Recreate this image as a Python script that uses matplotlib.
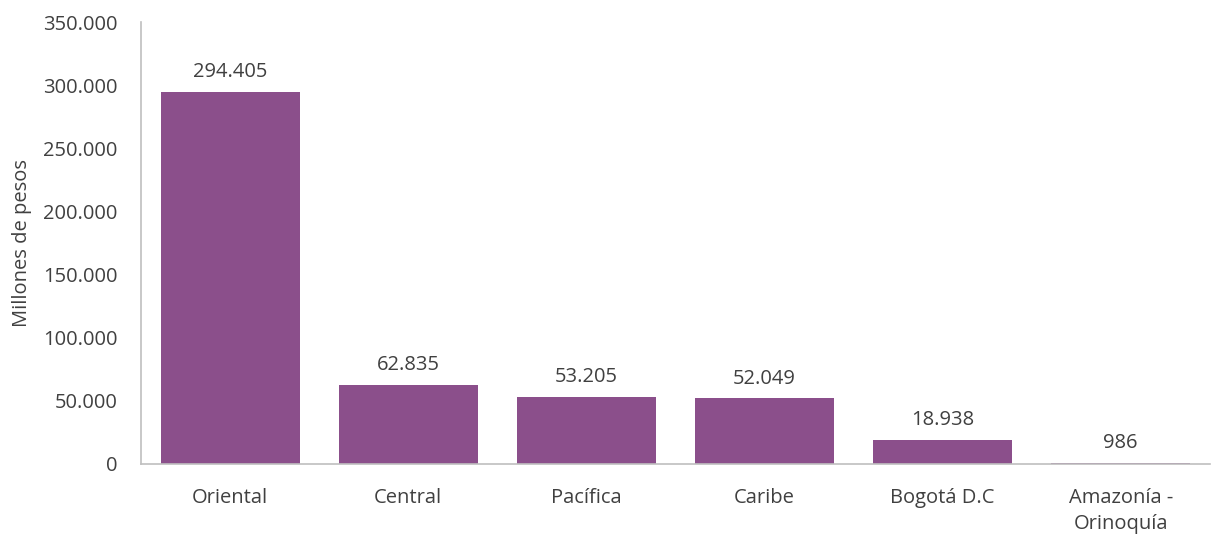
import matplotlib

matplotlib.use("Agg")

import matplotlib.pyplot as plt
from matplotlib.ticker import FuncFormatter

# Amounts by region, in millions of pesos.
regions = ["Oriental", "Central", "Pacífica", "Caribe", "Bogotá D.C", "Amazonía -\nOrinoquía"]
amounts = [294405, 62835, 53205, 52049, 18938, 986]

BAR_COLOR = "#8B4F8B"
TEXT_COLOR = "#404040"
AXIS_COLOR = "#BFBFBF"
FONT_SIZE = 14.5

plt.rcParams["font.family"] = ["Open Sans", "DejaVu Sans"]


def dotted_thousands(value, _pos=None):
    return f"{int(round(value)):,}".replace(",", ".")


fig = plt.figure(figsize=(12.17, 5.37), dpi=100)
ax = fig.add_axes([0.116, 0.136, 0.878, 0.823])

positions = range(len(regions))
bars = ax.bar(positions, amounts, width=0.78, color=BAR_COLOR)

for bar, value in zip(bars, amounts):
    ax.annotate(dotted_thousands(value),
                xy=(bar.get_x() + bar.get_width() / 2, bar.get_height()),
                xytext=(0, 7), textcoords="offset points",
                ha="center", va="bottom", fontsize=FONT_SIZE, color=TEXT_COLOR)

ax.set_xlim(-0.5, len(regions) - 0.5)
ax.set_ylim(0, 350000)
ax.set_yticks(range(0, 350001, 50000))
ax.yaxis.set_major_formatter(FuncFormatter(dotted_thousands))
ax.set_xticks(list(positions))
ax.set_xticklabels(regions, linespacing=1.45)

ax.tick_params(axis="both", length=0, colors=TEXT_COLOR, labelsize=FONT_SIZE)
ax.tick_params(axis="y", pad=17)
ax.tick_params(axis="x", pad=17)
ax.set_ylabel("Millones de pesos", fontsize=FONT_SIZE, color=TEXT_COLOR, labelpad=8)

for side in ("top", "right"):
    ax.spines[side].set_visible(False)
for side in ("left", "bottom"):
    ax.spines[side].set_color(AXIS_COLOR)
    ax.spines[side].set_linewidth(1.2)

fig.savefig("out.png", dpi=100)
